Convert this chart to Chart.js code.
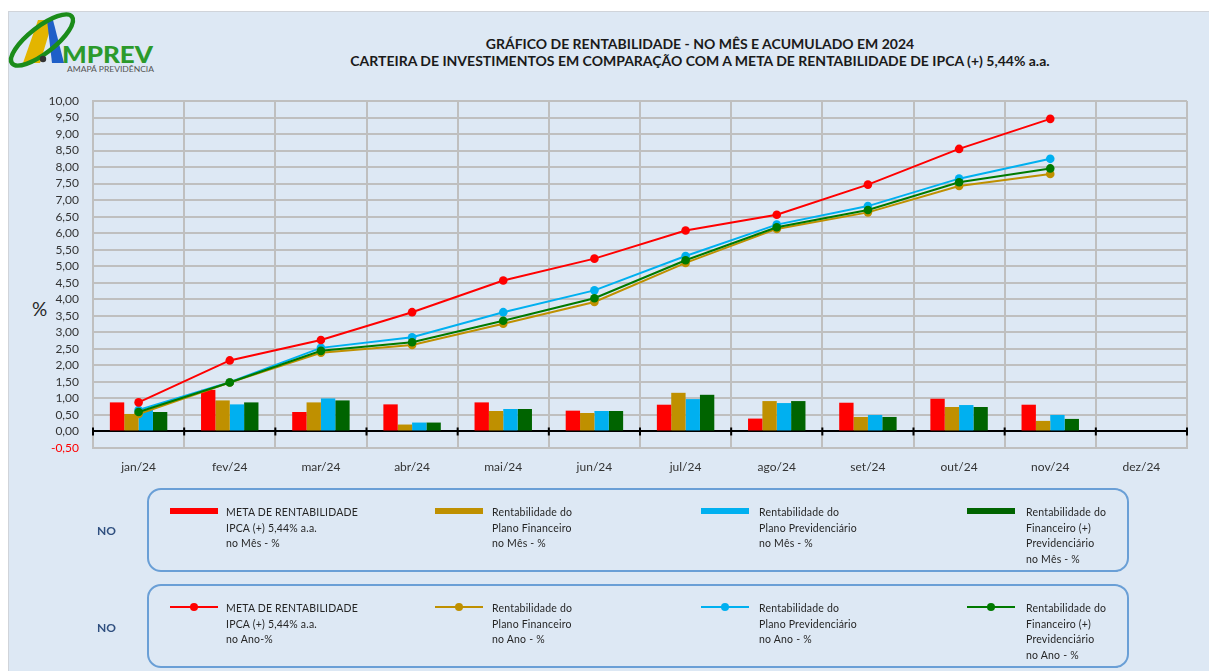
<!DOCTYPE html>
<html>
<head>
<meta charset="utf-8">
<script src="https://cdn.jsdelivr.net/npm/chart.js@4/dist/chart.umd.min.js"></script>
<style>
  html, body { margin: 0; padding: 0; background: #ffffff; }
  body { width: 1209px; height: 671px; position: relative; overflow: hidden; font-family: Lato, "Open Sans", sans-serif; }
  #panel { position: absolute; left: 8px; top: 11px; width: 1205px; height: 664px; background: #dde8f4; border: 1px solid #d0d4da; }
  #c { position: absolute; left: 0; top: 0; }
  .title { position: absolute; left: 300px; width: 800px; text-align: center; font-weight: bold; font-size: 14px; color: #1a1a1a; white-space: nowrap; }
  .pct { position: absolute; left: 32px; top: 297px; font-size: 19px; color: #262626; }
  .box { position: absolute; left: 147px; width: 982px; border: 2px solid #6a9fd6; border-radius: 14px; box-sizing: border-box; }
  .no { position: absolute; left: 97px; font-weight: bold; font-size: 12px; color: #2f4f7f; }
  .item { position: absolute; font-size: 10.5px; line-height: 15.5px; color: #262626; white-space: nowrap; letter-spacing: 0.2px; }
  .sw { position: absolute; height: 6px; width: 48px; }
  .ln { position: absolute; height: 2px; width: 48px; }
  .dot { position: absolute; width: 8px; height: 8px; border-radius: 50%; left: 20px; top: -3px; }
</style>
</head>
<body>
<div id="panel"></div>
<svg style="position:absolute;left:0;top:0" width="170" height="85">
  <polygon points="23,63 40,63 53,20 38,20" fill="#e3b500"/>
  <polygon points="47,20 53,20 64,63 52,63" fill="#1f5fc8"/>
  <ellipse cx="42" cy="40" rx="38" ry="13" transform="rotate(-38 42 40)" fill="none" stroke="#1a8c1a" stroke-width="4.5"/>
  <circle cx="43" cy="59" r="3.2" fill="#333"/>
  <text x="62" y="63" font-family="Lato, sans-serif" font-weight="900" font-size="22" fill="#2b9a2b" textLength="91" lengthAdjust="spacingAndGlyphs">MPREV</text>
  <text x="67" y="71.5" font-family="Lato, sans-serif" font-size="8" fill="#555" textLength="87" lengthAdjust="spacingAndGlyphs">AMAPÁ PREVIDÊNCIA</text>
</svg>
<div class="title" style="top:35px">GRÁFICO DE RENTABILIDADE - NO MÊS E ACUMULADO EM 2024</div>
<div class="title" style="top:52px">CARTEIRA DE INVESTIMENTOS EM COMPARAÇÃO COM A META DE RENTABILIDADE DE IPCA (+) 5,44% a.a.</div>
<div class="pct">%</div>
<canvas id="c" width="1209" height="671"></canvas>

<div class="box" style="top:488px;height:84px"></div>
<div class="box" style="top:584px;height:84px"></div>
<div class="no" style="top:523px">NO</div>
<div class="no" style="top:620px">NO</div>
<div id="legends"></div>

<script>
const categories = ['jan/24','fev/24','mar/24','abr/24','mai/24','jun/24','jul/24','ago/24','set/24','out/24','nov/24','dez/24'];
const yTickMin = -0.5;
const yTickMax = 10;
const yTickStep = 0.5;

// Rentabilidade no mês (%)
const metaMes = [0.88, 1.26, 0.59, 0.82, 0.88, 0.63, 0.81, 0.39, 0.87, 0.99, 0.81, null];
const finMes  = [0.53, 0.94, 0.88, 0.21, 0.62, 0.56, 1.17, 0.92, 0.44, 0.74, 0.32, null];
const prevMes = [0.65, 0.82, 1.00, 0.27, 0.68, 0.62, 0.98, 0.86, 0.50, 0.80, 0.50, null];
const totMes  = [0.59, 0.88, 0.94, 0.27, 0.68, 0.62, 1.11, 0.92, 0.44, 0.74, 0.38, null];

// Rentabilidade acumulada no ano (%)
const metaAno = [0.88, 2.15, 2.77, 3.61, 4.57, 5.23, 6.08, 6.56, 7.47, 8.55, 9.46, null];
const finAno  = [0.53, 1.48, 2.38, 2.62, 3.26, 3.92, 5.10, 6.13, 6.63, 7.43, 7.79, null];
const prevAno = [0.65, 1.49, 2.53, 2.85, 3.61, 4.27, 5.31, 6.26, 6.82, 7.65, 8.25, null];
const totAno  = [0.59, 1.48, 2.44, 2.70, 3.35, 4.03, 5.18, 6.18, 6.70, 7.54, 7.96, null];

const colors = { meta: '#ff0000', fin: '#bf9000', prev: '#00b0f0', tot: '#006400', totLine: '#007a00' };

const legendMes = [
  ['META DE RENTABILIDADE', 'IPCA (+) 5,44% a.a.', 'no Mês - %'],
  ['Rentabilidade do', 'Plano Financeiro', 'no Mês - %'],
  ['Rentabilidade do', 'Plano Previdenciário', 'no Mês - %'],
  ['Rentabilidade do', 'Financeiro (+)', 'Previdenciário', 'no Mês - %']
];
const legendAno = [
  ['META DE RENTABILIDADE', 'IPCA (+) 5,44% a.a.', 'no Ano-%'],
  ['Rentabilidade do', 'Plano Financeiro', 'no Ano - %'],
  ['Rentabilidade do', 'Plano Previdenciário', 'no Ano - %'],
  ['Rentabilidade do', 'Financeiro (+)', 'Previdenciário', 'no Ano - %']
];

const FONT = 'Lato, "Open Sans", sans-serif';

function bar(label, data, color) {
  return { type: 'bar', label, data, backgroundColor: color, borderWidth: 0, order: 5,
           categoryPercentage: 0.63, barPercentage: 1.0 };
}
function line(label, data, color, order) {
  return { type: 'line', label, data, borderColor: color, backgroundColor: color, borderWidth: 2,
           pointRadius: 4.3, pointHoverRadius: 4.3, pointBorderWidth: 0, pointBackgroundColor: color,
           tension: 0, fill: false, order, spanGaps: false };
}

const zeroTicks = {
  id: 'zeroTicks',
  beforeDatasetsDraw(chart) {
    const xs = chart.scales.x, ys = chart.scales.y, ctx = chart.ctx;
    const y0 = ys.getPixelForValue(0);
    ctx.save();
    ctx.strokeStyle = '#000';
    ctx.lineWidth = 2;
    for (let i = 0; i <= categories.length; i++) {
      const x = xs.getPixelForValue(i - 0.5);
      ctx.beginPath();
      ctx.moveTo(x, y0 - 4);
      ctx.lineTo(x, y0 + 4);
      ctx.stroke();
    }
    ctx.restore();
  }
};

new Chart(document.getElementById('c'), {
  type: 'bar',
  data: {
    labels: categories,
    datasets: [
      bar('META DE RENTABILIDADE no Mês', metaMes, colors.meta),
      bar('Plano Financeiro no Mês', finMes, colors.fin),
      bar('Plano Previdenciário no Mês', prevMes, colors.prev),
      bar('Financeiro (+) Previdenciário no Mês', totMes, colors.tot),
      line('META DE RENTABILIDADE no Ano', metaAno, colors.meta, 1),
      line('Plano Financeiro no Ano', finAno, colors.fin, 3),
      line('Plano Previdenciário no Ano', prevAno, colors.prev, 4),
      line('Financeiro (+) Previdenciário no Ano', totAno, colors.totLine, 2)
    ]
  },
  options: {
    responsive: false,
    animation: false,
    layout: { padding: { top: 101, left: 0, right: 22, bottom: 183 } },
    plugins: { legend: { display: false }, tooltip: { enabled: false }, title: { display: false } },
    scales: {
      x: {
        grid: { offset: true, color: '#bfbfbf', lineWidth: 2, drawTicks: false },
        border: { color: '#bfbfbf', width: 2 },
        ticks: { padding: 12, color: '#333', font: { family: FONT, size: 12 } },
        afterFit(s) { s.height = 40; }
      },
      y: {
        min: yTickMin, max: yTickMax,
        grid: {
          color: c => (c.tick && c.tick.value === 0) ? '#000000' : '#bfbfbf',
          lineWidth: 2, drawTicks: false
        },
        border: { color: '#bfbfbf', width: 2 },
        ticks: {
          stepSize: yTickStep, padding: 14, autoSkip: false,
          font: { family: FONT, size: 12 },
          color: c => (c.tick && c.tick.value < 0) ? '#ff0000' : '#333',
          callback: v => Number(v).toFixed(2).replace('.', ',')
        },
        afterFit(s) { s.width = 93; }
      }
    }
  },
  plugins: [zeroTicks]
});

// Legends (HTML, inside the rounded boxes)
const colX = [{ sw: 170, tx: 226 }, { sw: 435, tx: 492 }, { sw: 701, tx: 759 }, { sw: 967, tx: 1026 }];
const legendColors = [colors.meta, colors.fin, colors.prev, colors.tot];
const lineColors = [colors.meta, colors.fin, colors.prev, colors.totLine];
const host = document.getElementById('legends');
legendMes.forEach((lines, i) => {
  const s = document.createElement('div');
  s.className = 'sw'; s.style.left = colX[i].sw + 'px'; s.style.top = '508px'; s.style.background = legendColors[i];
  host.appendChild(s);
  const t = document.createElement('div');
  t.className = 'item'; t.style.left = colX[i].tx + 'px'; t.style.top = '505px';
  lines.forEach(l => { const d = document.createElement('div'); d.textContent = l; t.appendChild(d); });
  host.appendChild(t);
});
legendAno.forEach((lines, i) => {
  const s = document.createElement('div');
  s.className = 'ln'; s.style.left = colX[i].sw + 'px'; s.style.top = '606px'; s.style.background = lineColors[i];
  const d0 = document.createElement('div'); d0.className = 'dot'; d0.style.background = lineColors[i];
  s.appendChild(d0);
  host.appendChild(s);
  const t = document.createElement('div');
  t.className = 'item'; t.style.left = colX[i].tx + 'px'; t.style.top = '601px';
  lines.forEach(l => { const d = document.createElement('div'); d.textContent = l; t.appendChild(d); });
  host.appendChild(t);
});
</script>
</body>
</html>
